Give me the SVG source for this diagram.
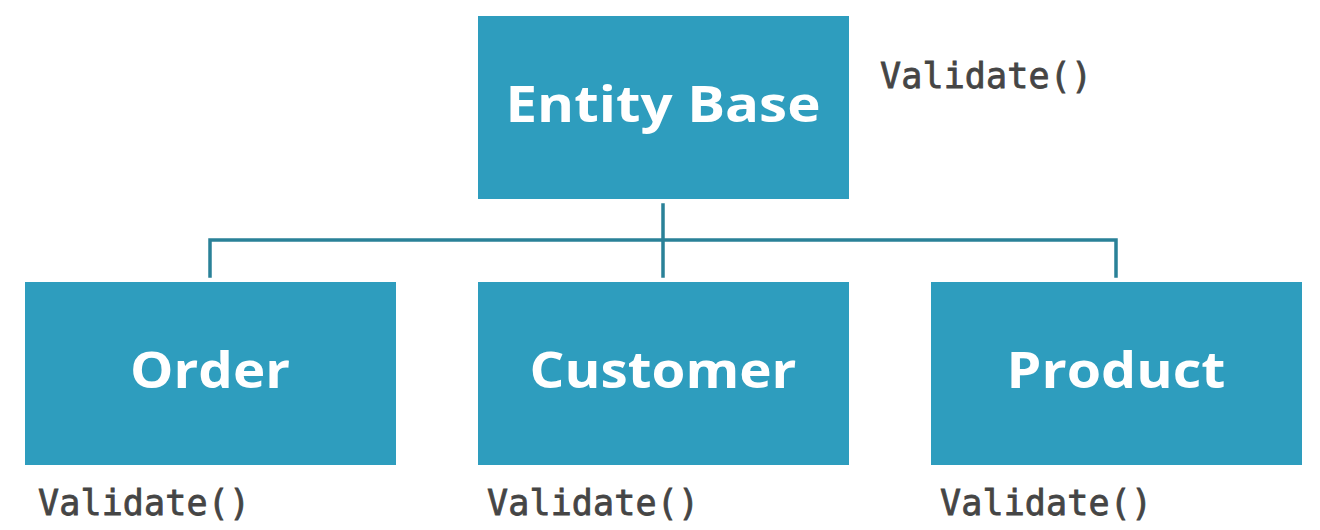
<svg xmlns="http://www.w3.org/2000/svg" width="1320" height="530" viewBox="0 0 1320 530">
<style>
.box{fill:#2e9dbe}
.lbl{font-family:"Open Sans","Liberation Sans",sans-serif;font-weight:bold;font-size:51px;fill:#fff;text-anchor:middle}
.m{font-family:"DejaVu Sans Mono","Liberation Mono",monospace;font-size:35px;fill:#454545;stroke:#454545;stroke-width:0.8}
.c{stroke:#2a8198;stroke-width:3.5;fill:none;stroke-linecap:square}
</style>
<rect width="1320" height="530" fill="#fff"/>
<g id="connectors">
<path class="c" d="M663 205V276M210 276V240H1116V276"/>
</g>
<g id="entity-base">
<rect class="box" x="478" y="16" width="371" height="183"/>
<text class="lbl" x="663" y="122" textLength="315" lengthAdjust="spacingAndGlyphs">Entity Base</text>
<text class="m" x="880" y="88" textLength="212">Validate()</text>
</g>
<g id="order">
<rect class="box" x="25" y="282" width="371" height="183"/>
<text class="lbl" x="210" y="388" textLength="160" lengthAdjust="spacingAndGlyphs">Order</text>
<text class="m" x="38" y="515" textLength="212">Validate()</text>
</g>
<g id="customer">
<rect class="box" x="478" y="282" width="371" height="183"/>
<text class="lbl" x="663" y="388" textLength="267" lengthAdjust="spacingAndGlyphs">Customer</text>
<text class="m" x="487" y="515" textLength="212">Validate()</text>
</g>
<g id="product">
<rect class="box" x="931" y="282" width="371" height="183"/>
<text class="lbl" x="1116" y="388" textLength="219" lengthAdjust="spacingAndGlyphs">Product</text>
<text class="m" x="940" y="515" textLength="212">Validate()</text>
</g>
</svg>
